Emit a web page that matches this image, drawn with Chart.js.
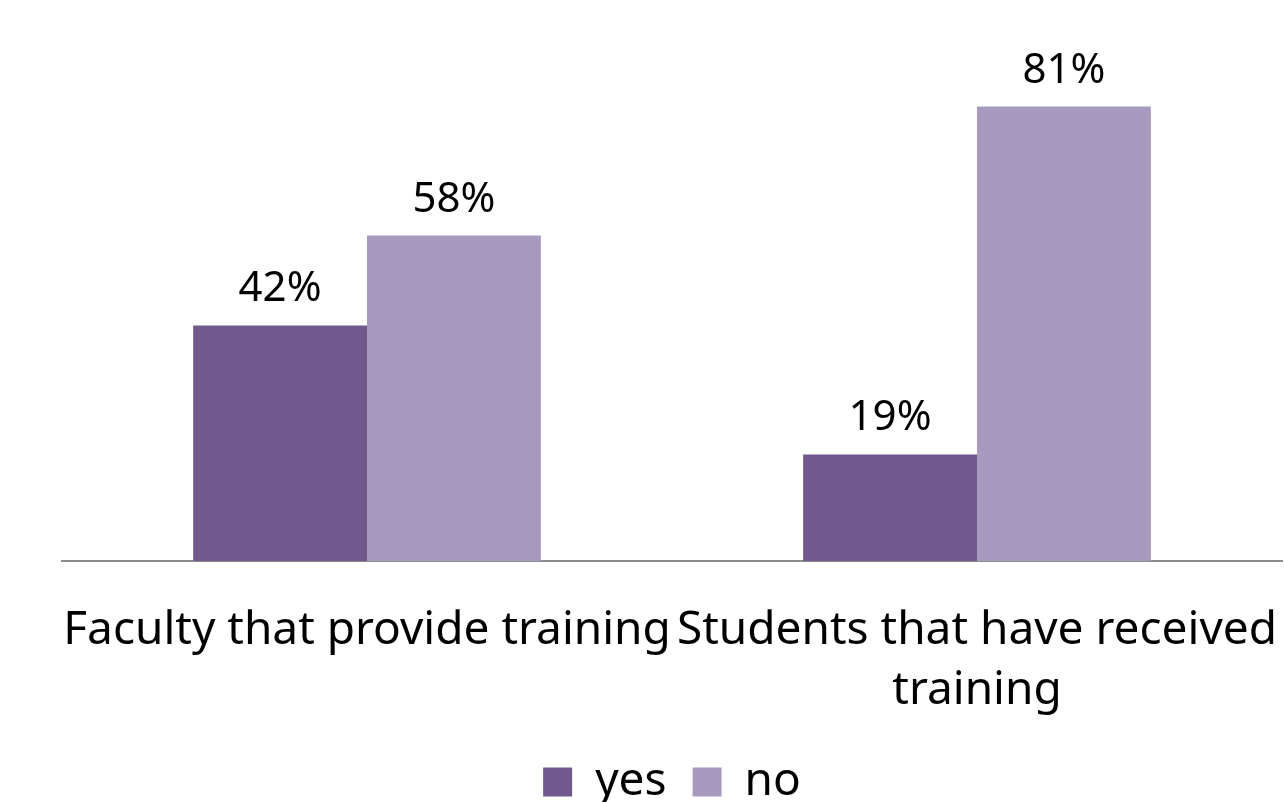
<!DOCTYPE html>
<html>
<head>
<meta charset="utf-8">
<script src="https://cdn.jsdelivr.net/npm/chart.js@4"></script>
<style>
  html, body { margin: 0; padding: 0; background: #fff; }
  #wrap { width: 1284px; height: 802px; }
</style>
</head>
<body>
<div id="wrap"><canvas id="myChart" width="1284" height="802"></canvas></div>
<script>
const categories = [
  ["Faculty that provide training"],
  ["Students that have received", "training"],
];
const yesValues = [42, 19];
const noValues = [58, 81];
const seriesNames = ["yes", "no"];

const fontFamily = "'Noto Sans', sans-serif";

// draws the "42%" style labels over each bar
const valueLabels = {
  id: "valueLabels",
  afterDatasetsDraw(chart) {
    const ctx = chart.ctx;
    ctx.save();
    ctx.font = "42px " + fontFamily;
    ctx.fillStyle = "#000";
    ctx.textAlign = "center";
    ctx.textBaseline = "alphabetic";
    chart.data.datasets.forEach((ds, i) => {
      chart.getDatasetMeta(i).data.forEach((bar, j) => {
        ctx.fillText(ds.data[j] + "%", bar.x, bar.y - 24);
      });
    });
    ctx.restore();
  },
};

const config = {
  type: "bar",
  data: {
    labels: categories,
    datasets: [
      {
        label: seriesNames[0],
        data: yesValues,
        backgroundColor: "#71588d",
        categoryPercentage: 0.57,
        barPercentage: 1,
      },
      {
        label: seriesNames[1],
        data: noValues,
        backgroundColor: "#a899bf",
        categoryPercentage: 0.57,
        barPercentage: 1,
      },
    ],
  },
  options: {
    responsive: false,
    animation: false,
    layout: { padding: { left: 62, right: 2, top: 0, bottom: -13 } },
    plugins: {
      tooltip: { enabled: false },
      legend: {
        position: "bottom",
        labels: {
          color: "#000",
          font: { family: fontFamily, size: 46 },
          boxWidth: 29,
          boxHeight: 29,
          padding: 26,
        },
      },
    },
    scales: {
      x: {
        grid: { display: false },
        border: { color: "#8c8c8c", width: 2 },
        ticks: {
          color: "#000",
          font: { family: fontFamily, size: 46, lineHeight: 1.3 },
          maxRotation: 0,
          autoSkip: false,
          padding: 32,
        },
        afterFit(scale) {
          // long labels may hang past the plot edges, as in the original
          scale.paddingLeft = 0;
          scale.paddingRight = 0;
          scale.height = 172;
        },
      },
      y: {
        display: false,
        min: 0,
        max: 100,
      },
    },
  },
  plugins: [valueLabels],
};

const myChart = new Chart(document.getElementById("myChart"), config);
</script>
</body>
</html>
